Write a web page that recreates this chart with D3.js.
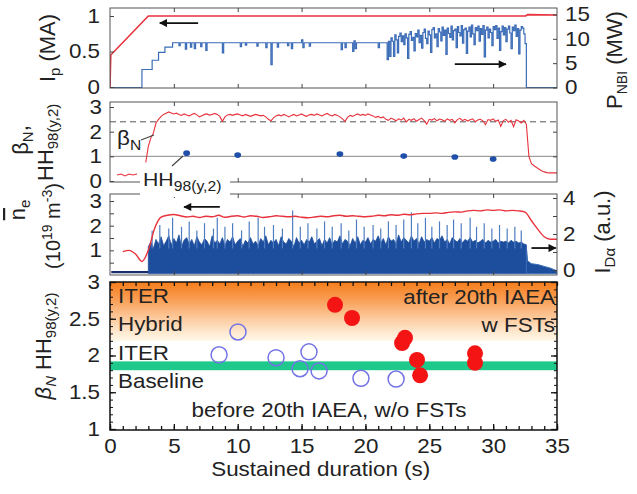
<!DOCTYPE html>
<html>
<head>
<meta charset="utf-8">
<script src="https://cdn.jsdelivr.net/npm/d3@7"></script>
<style>
  body { margin: 0; background: #fff; }
  svg text { font-family: "Liberation Sans", Arial, sans-serif; fill: #222; }
</style>
</head>
<body>
<svg id="chart" width="637" height="494"></svg>
<script>
// ---------- data ----------
const timeLabels = [0, 5, 10, 15, 20, 25, 30, 35];

// (a) plasma current [s, MA]
const ipTrace = [[0, 0], [0.06, 0.45], [3.0, 1.0], [32.55, 1.0], [32.7, 1.02], [35, 1.015]];

// (a) NBI power, step changes [s, MW] up to 22 s
const nbiSteps = [
  [0, 0], [2.5, 3.7], [3.3, 5.6], [3.8, 7.2], [4.3, 8.3], [4.9, 9.2],
  [5.4, 8.6], [5.5, 9.2], [5.9, 7.9], [6.0, 9.2], [6.3, 8.3], [6.4, 9.2], [6.6, 8.0], [6.7, 9.2],
  [7.1, 8.4], [7.2, 9.2], [7.5, 7.6], [7.6, 9.2], [8.8, 7.1], [8.9, 9.2], [10.2, 8.4], [10.3, 9.2],
  [10.6, 8.7], [10.7, 9.2], [11.5, 8.5], [11.6, 9.2], [12.2, 8.2], [12.3, 9.2], [12.6, 4.7], [12.7, 9.2],
  [13.1, 8.3], [13.2, 9.2], [13.9, 8.6], [14.0, 9.2], [14.2, 8.0], [14.3, 9.2], [15.0, 9.8], [15.1, 8.2], [15.2, 9.2],
  [15.6, 8.5], [15.7, 9.2], [18.1, 7.8], [18.2, 9.2], [18.4, 8.2], [18.5, 9.2], [19.0, 7.4], [19.1, 9.6], [19.2, 8.0], [19.3, 9.2],
  [21.0, 8.2], [21.1, 9.2], [21.7, 5.7], [21.8, 9.5], [21.9, 6.4]
];
// (a) NBI power sampled every 0.1 s from 22.0 s, then switched off
const nbiLateStart = 22.0, nbiLateStep = 0.1;
const nbiLate = [
  10.2, 9.5, 6.4, 10.8, 9.8, 7.1, 10.5, 11.2, 9.4, 10.6,
  8.8, 11.0, 10.2, 6.0, 10.9, 11.5, 9.7, 10.3, 7.5, 11.1,
  10.4, 11.8, 9.2, 10.7, 8.1, 11.3, 12.0, 10.1, 9.0, 11.6,
  10.8, 7.2, 11.9, 12.3, 10.2, 11.0, 8.4, 12.1, 11.4, 9.6,
  12.4, 10.7, 11.8, 6.8, 12.2, 11.1, 10.3, 12.6, 9.8, 11.7,
  12.0, 8.2, 12.5, 11.3, 10.6, 12.7, 9.1, 11.9, 12.2, 7.0,
  11.6, 12.4, 10.4, 12.8, 11.0, 8.8, 12.3, 11.7, 12.6, 9.5,
  12.1, 10.9, 12.7, 6.3, 11.8, 12.4, 10.2, 12.0, 11.3, 8.6,
  12.5, 11.9, 12.7, 10.1, 12.2, 7.6, 11.5, 12.6, 10.8, 12.3,
  9.4, 12.0, 12.6, 11.2, 8.0, 12.4, 11.7, 12.8, 10.5, 12.1,
  6.9, 11.8, 12.5, 12.2, 11.0, 9.0
];
const nbiOffTime = 32.6;

// (b) normalized beta, every 0.2 s from 2.8 s
const betaStart = 2.8, betaStep = 0.2;
const betaN = [
  0.75, 1.4, 1.75, 1.95, 2.35, 2.5, 2.62, 2.7, 2.75, 2.8,
  2.76, 2.72, 2.75, 2.7, 2.66, 2.72, 2.68, 2.64, 2.7, 2.74,
  2.68, 2.6, 2.65, 2.7, 2.72, 2.67, 2.7, 2.74, 2.7, 2.62,
  2.42, 2.6, 2.68, 2.7, 2.66, 2.7, 2.72, 2.68, 2.64, 2.7,
  2.66, 2.62, 2.66, 2.7, 2.67, 2.64, 2.66, 2.6, 2.5, 2.44,
  2.56, 2.64, 2.68, 2.64, 2.7, 2.66, 2.6, 2.66, 2.7, 2.64,
  2.68, 2.72, 2.66, 2.62, 2.68, 2.7, 2.66, 2.72, 2.68, 2.64,
  2.7, 2.74, 2.68, 2.64, 2.7, 2.66, 2.6, 2.52, 2.42, 2.58,
  2.66, 2.62, 2.68, 2.72, 2.66, 2.7, 2.66, 2.72, 2.68, 2.64,
  2.58, 2.62, 2.56, 2.6, 2.5, 2.46, 2.55, 2.5, 2.44, 2.52,
  2.47, 2.55, 2.4, 2.5, 2.46, 2.53, 2.42, 2.49, 2.55, 2.45,
  2.3, 2.5, 2.47, 2.53, 2.44, 2.51, 2.48, 2.42, 2.52, 2.46,
  2.5, 2.36, 2.49, 2.54, 2.45, 2.5, 2.43, 2.48, 2.52, 2.4,
  2.47, 2.5, 2.44, 2.28, 2.49, 2.46, 2.52, 2.42, 2.47, 2.22,
  2.45, 2.5, 2.38, 2.46, 2.2, 2.48, 2.43, 2.35, 2.46, 2.3,
  1.0, 0.7, 0.62, 0.55, 0.48, 0.42, 0.37, 0.34, 0.33, 0.33,
  0.33, 0.33
];
const betaRef = 2.4;   // dashed reference level
const hhRef = 1.0;     // solid reference level
// (b) confinement factor points [s, HH98(y,2)]
const hhPoints = [[6.0, 1.13], [10.0, 1.05], [18.0, 1.09], [23.0, 1.01], [27.0, 0.97], [30.0, 0.89]];

// (c) line-averaged density, every 0.5 s from 1.0 s [1e19 m^-3]
const neStart = 1.0, neStep = 0.5;
const neBar = [
  0.95, 1.0, 0.85, 0.55, 1.0, 1.9, 2.35, 2.42, 2.45, 2.4,
  2.35, 2.38, 2.33, 2.38, 2.36, 2.42, 2.34, 2.38, 2.4, 2.35,
  2.4, 2.38, 2.33, 2.36, 2.4, 2.38, 2.36, 2.38, 2.34, 2.32,
  2.35, 2.38, 2.36, 2.4, 2.42, 2.38, 2.4, 2.38, 2.36, 2.38,
  2.42, 2.4, 2.44, 2.42, 2.46, 2.44, 2.48, 2.5, 2.5, 2.52,
  2.5, 2.54, 2.56, 2.55, 2.6, 2.62, 2.6, 2.64, 2.62, 2.64,
  2.6, 2.62, 2.6, 2.55, 2.2, 1.85, 1.55, 1.45, 1.45
];

// (c) D-alpha emission: dense level every 0.2 s from 3.0 s, plus ELM spikes [a.u.]
const daStart = 3.0, daStep = 0.2;
const daLevel = [
  1.3, 1.55, 1.2, 1.7, 1.45, 1.85, 1.35, 1.6, 1.9, 1.4,
  1.75, 1.5, 1.95, 1.3, 1.65, 1.8, 1.45, 1.7, 1.35, 1.85,
  1.55, 1.4, 1.75, 1.6, 1.3, 1.9, 1.5, 1.65, 1.45, 1.8,
  1.35, 1.7, 1.55, 1.85, 1.4, 1.6, 1.75, 1.3, 1.65, 1.5,
  1.8, 1.45, 1.6, 1.35, 1.75, 1.55, 1.9, 1.4, 1.65, 1.5,
  1.7, 1.35, 1.85, 1.55, 1.45, 1.75, 1.6, 1.3, 1.8, 1.5,
  1.65, 1.4, 1.7, 1.55, 1.85, 1.45, 1.6, 1.75, 1.35, 1.7,
  1.5, 1.8, 1.4, 1.65, 1.55, 1.9, 1.45, 1.7, 1.6, 1.35,
  1.75, 1.5, 1.85, 1.4, 1.65, 1.55, 1.8, 1.45, 1.7, 1.6,
  1.9, 1.5, 1.75, 1.4, 1.85, 1.6, 1.7, 1.45, 1.95, 1.55,
  1.8, 1.65, 1.5, 1.9, 1.6, 1.75, 1.45, 1.85, 1.55, 1.7,
  1.6, 1.8, 1.5, 1.75, 1.65, 1.9, 1.55, 1.7, 1.45, 1.8,
  1.65, 1.55, 1.75, 1.5, 1.7, 1.6, 1.8, 1.55, 1.65, 1.5,
  1.6, 1.7, 1.5, 1.65, 1.55, 1.6, 1.7, 1.5, 1.6, 1.55,
  1.6, 1.5, 1.65, 1.55, 1.6, 1.5, 1.55, 1.45, 1.4
];
const daSpikes = [
  [3.3, 2.2], [3.9, 2.5], [4.6, 2.3], [4.9, 2.9], [5.6, 2.4], [6.2, 2.7], [6.8, 2.2], [7.4, 2.6],
  [8.1, 2.3], [8.4, 2.9], [9.0, 2.4], [9.6, 2.6], [10.3, 2.2], [10.9, 2.7], [11.6, 2.9], [12.1, 2.4],
  [12.8, 2.5], [13.5, 2.3], [14.3, 3.3], [14.9, 2.4], [15.5, 2.6], [16.2, 2.3], [16.8, 2.7], [17.4, 2.4],
  [18.1, 2.6], [18.7, 2.2], [19.3, 2.8], [19.9, 2.4], [20.6, 2.5], [21.2, 2.3], [21.8, 2.7], [22.4, 2.5],
  [23.0, 2.8], [23.6, 3.2], [24.1, 2.6], [24.7, 2.9], [25.2, 2.4], [25.8, 2.7], [26.4, 2.5], [26.9, 2.8],
  [27.5, 2.6], [28.2, 2.9], [28.7, 2.4], [29.3, 2.6], [29.9, 2.3], [30.5, 2.5], [31.1, 2.3], [31.7, 2.4], [32.2, 2.2]
];
const daTail = [[32.6, 1.3], [32.7, 0.5], [33.0, 0.35], [33.5, 0.3], [34.0, 0.2], [34.5, 0.1], [35.0, -0.05]];
const daPre = [[0.1, -0.12], [3.0, -0.12]];

// (d) betaN*HH98 vs sustained duration [s, value]
const beforeFST = [[8.54, 2.01], [10.02, 2.32], [13.0, 1.97], [14.88, 1.82], [15.58, 2.05], [16.37, 1.79], [19.65, 1.69], [22.4, 1.68]];
const afterFST = [[17.62, 2.69], [18.95, 2.51], [22.87, 2.17], [23.1, 2.24], [24.04, 1.94], [24.28, 1.73], [28.58, 2.03], [28.58, 1.90]];
const hybridRange = [2.2, 3.0];
const baselineBand = [1.8, 1.92];

// ---------- layout ----------
const svg = d3.select("#chart");
svg.append("rect").attr("width", 637).attr("height", 494).attr("fill", "#fff");

const x = d3.scaleLinear().domain([0, 35]).range([110, 557]);
const panelA = { top: 8, bottom: 88 };
const panelB = { top: 102, bottom: 182 };
const panelC = { top: 194, bottom: 275 };
const panelD = { top: 282, bottom: 430 };

const yIp = d3.scaleLinear().domain([0, 1]).range([87, 16]);
const yNbi = d3.scaleLinear().domain([0, 15]).range([87.5, 14.5]);
const yBeta = d3.scaleLinear().domain([0, 3]).range([181, 107]);
const yNe = d3.scaleLinear().domain([0, 3]).range([275, 201]);
const yDa = d3.scaleLinear().domain([0, 4]).range([270, 198]);
const yPerf = d3.scaleLinear().domain([1, 3]).range([429, 282]);

const RED = "#e8323c";
const BLUE = "#3b6cb7";
const SX = 1.12; // horizontal widening of upright text
const grid = (start, step, vals) => vals.map((v, i) => [start + i * step, v]);

const defs = svg.append("defs");
function clipFor(id, p) {
  defs.append("clipPath").attr("id", id).append("rect")
    .attr("x", x(0)).attr("y", p.top).attr("width", x(35) - x(0)).attr("height", p.bottom - p.top);
  return `url(#${id})`;
}
const marker = defs.append("marker").attr("id", "head").attr("viewBox", "0 0 10 10")
  .attr("refX", 9).attr("refY", 5).attr("markerWidth", 11).attr("markerHeight", 8)
  .attr("markerUnits", "userSpaceOnUse").attr("orient", "auto");
marker.append("path").attr("d", "M0,0 L10,5 L0,10 z").attr("fill", "#111");

function frame(p, stroke, w) {
  svg.append("rect").attr("x", x(0)).attr("y", p.top).attr("width", x(35) - x(0)).attr("height", p.bottom - p.top)
    .attr("fill", "none").attr("stroke", stroke).attr("stroke-width", w);
}
function axis(gen, tx, ty, opts = {}) {
  const g = svg.append("g").attr("transform", `translate(${tx},${ty})`).call(gen);
  g.select(".domain").remove();
  g.selectAll("line").attr("stroke", opts.tick || "#444").attr("stroke-width", opts.tw || 1);
  g.selectAll("text").attr("font-size", 20).attr("font-family", null).attr("fill", "#222")
    .attr("transform", `scale(${SX},1)`)
    .attr("x", function () { return +d3.select(this).attr("x") / SX; });
  return g;
}
function hText(px, py, anchor, size) {
  return svg.append("text").attr("transform", `translate(${px},${py}) scale(${SX},1)`)
    .attr("text-anchor", anchor).attr("font-size", size);
}
function vText(px, py, anchor, size, rot = -90) {
  return svg.append("text").attr("transform", `translate(${px},${py}) rotate(${rot})`)
    .attr("text-anchor", anchor).attr("font-size", size);
}
function rich(t, parts) {
  parts.forEach(p => {
    const s = t.append("tspan").text(p.t);
    if (p.size) s.attr("font-size", p.size);
    if (p.shift) s.attr("baseline-shift", p.shift);
    if (p.italic) s.attr("font-style", "italic");
    if (p.over) s.attr("text-decoration", "overline");
  });
  return t;
}
function arrow(t1, v1, t2, v2, yScale) {
  svg.append("line").attr("x1", x(t1)).attr("y1", yScale(v1)).attr("x2", x(t2)).attr("y2", yScale(v2))
    .attr("stroke", "#111").attr("stroke-width", 1.8).attr("marker-end", "url(#head)");
}
function timeTicks(p) {
  const vals = [5, 10, 15, 20, 25, 30];
  axis(d3.axisTop(x).tickValues(vals).tickSize(-4).tickFormat(""), 0, p.top);
  axis(d3.axisBottom(x).tickValues(vals).tickSize(-4).tickFormat(""), 0, p.bottom);
}
const fmt = d3.format("~g");

// ---------- panel (a): Ip and P_NBI ----------
const clipA = clipFor("clipA", panelA);
const nbiAll = nbiSteps.concat(grid(nbiLateStart, nbiLateStep, nbiLate), [[nbiOffTime, 0], [35, 0]]);
svg.append("path").datum(nbiAll).attr("clip-path", clipA)
  .attr("d", d3.line().x(d => x(d[0])).y(d => yNbi(d[1])).curve(d3.curveStepAfter))
  .attr("fill", "none").attr("stroke", BLUE).attr("stroke-width", 1.2);
svg.append("path").datum(ipTrace).attr("clip-path", clipA)
  .attr("d", d3.line().x(d => x(d[0])).y(d => yIp(d[1])))
  .attr("fill", "none").attr("stroke", RED).attr("stroke-width", 1.6);
frame(panelA, "#555", 1);
timeTicks(panelA);
axis(d3.axisLeft(yIp).tickValues([0, 0.5, 1]).tickSize(-4).tickPadding(10).tickFormat(fmt), x(0), 0);
axis(d3.axisRight(yNbi).tickValues([0, 5, 10, 15]).tickSize(-4).tickPadding(8).tickFormat(fmt), x(35), 0);
arrow(6.9, 0.9, 3.9, 0.9, yIp);
arrow(27.0, 4.8, 31.0, 4.8, yNbi);
rich(vText(55, 48, "middle", 22), [{ t: "I" }, { t: "p", size: 15, shift: -5 }, { t: " (MA)" }]);
rich(vText(622, 60, "middle", 22), [{ t: "P" }, { t: "NBI", size: 14, shift: -5 }, { t: " (MW)" }]);

// ---------- panel (b): betaN and HH98 ----------
const clipB = clipFor("clipB", panelB);
svg.append("line").attr("x1", x(0)).attr("x2", x(35)).attr("y1", yBeta(hhRef)).attr("y2", yBeta(hhRef))
  .attr("stroke", "#888").attr("stroke-width", 1);
svg.append("line").attr("x1", x(0)).attr("x2", x(35)).attr("y1", yBeta(betaRef)).attr("y2", yBeta(betaRef))
  .attr("stroke", "#555").attr("stroke-width", 1).attr("stroke-dasharray", "6,4");
svg.append("path").datum(grid(betaStart, betaStep, betaN)).attr("clip-path", clipB)
  .attr("d", d3.line().x(d => x(d[0])).y(d => yBeta(d[1])))
  .attr("fill", "none").attr("stroke", RED).attr("stroke-width", 1.1);
svg.selectAll(".hh").data(hhPoints).join("ellipse").attr("class", "hh")
  .attr("cx", d => x(d[0])).attr("cy", d => yBeta(d[1])).attr("rx", 3.4).attr("ry", 2.8)
  .attr("fill", "#1f4fa8");
frame(panelB, "#555", 1);
timeTicks(panelB);
axis(d3.axisLeft(yBeta).tickValues([0, 1, 2, 3]).tickSize(-4).tickPadding(8).tickFormat(fmt), x(0), 0);
axis(d3.axisRight(yBeta).tickValues([1, 2]).tickSize(-4).tickFormat(""), x(35), 0);

// ---------- panel (c): density and D-alpha ----------
const clipC = clipFor("clipC", panelC);
const gDa = svg.append("g").attr("clip-path", clipC);
const daFloor = yDa(-0.2);
gDa.append("path").datum(grid(daStart, daStep, daLevel))
  .attr("d", d3.area().x(d => x(d[0])).y0(daFloor).y1(d => yDa(d[1])))
  .attr("fill", "#1d4e9e").attr("stroke", "#1d4e9e").attr("stroke-width", 0.8);
gDa.selectAll("line").data(daSpikes).join("line")
  .attr("x1", d => x(d[0])).attr("x2", d => x(d[0]))
  .attr("y1", yDa(1.2)).attr("y2", d => yDa(d[1]))
  .attr("stroke", "#4f7dc2").attr("stroke-width", 1.2);
gDa.append("path").datum(daTail)
  .attr("d", d3.area().x(d => x(d[0])).y0(daFloor).y1(d => yDa(d[1])))
  .attr("fill", "#1d4e9e").attr("stroke", BLUE).attr("stroke-width", 1);
gDa.append("path").datum(daPre)
  .attr("d", d3.line().x(d => x(d[0])).y(d => yDa(d[1])))
  .attr("stroke", "#1a2f6a").attr("stroke-width", 2.2).attr("fill", "none");
svg.append("path").datum(grid(neStart, neStep, neBar)).attr("clip-path", clipC)
  .attr("d", d3.line().x(d => x(d[0])).y(d => yNe(d[1])).curve(d3.curveMonotoneX))
  .attr("fill", "none").attr("stroke", RED).attr("stroke-width", 1.4);
frame(panelC, "#555", 1);
timeTicks(panelC);
axis(d3.axisLeft(yNe).tickValues([0.5, 1, 1.5, 2, 2.5, 3]).tickSize(-4).tickPadding(8)
  .tickFormat(d => Number.isInteger(d) ? d : ""), x(0), 0);
axis(d3.axisRight(yDa).tickValues([0, 1, 2, 3, 4]).tickSize(-4).tickPadding(6)
  .tickFormat(d => d % 2 === 0 ? d : ""), x(35), 0);
arrow(8.6, 2.76, 5.8, 2.76, yNe);
arrow(33.0, 1.22, 34.9, 1.22, yDa);
rich(vText(25, 210, "middle", 22), [{ t: "n", over: true }, { t: "e", size: 15, shift: -5 }]);
rich(vText(60, 226, "middle", 20), [{ t: "(10" }, { t: "19", size: 14, shift: 8 }, { t: " m" }, { t: "-3", size: 14, shift: 8 }, { t: ")" }]);
rich(vText(610, 232, "middle", 22), [{ t: "I" }, { t: "Dα", size: 15, shift: -5 }, { t: " (a.u.)" }]);

// panel (b) labels, drawn after (c) so the legend box sits on top of both frames
rich(vText(28, 140, "middle", 22), [{ t: "β" }, { t: "N", size: 15, shift: -5 }, { t: "," }]);
rich(vText(53, 181, "start", 22), [{ t: "HH" }, { t: "98(y,2)", size: 15, shift: -5 }]);
svg.append("rect").attr("x", 140).attr("y", 168).attr("width", 90).attr("height", 29).attr("fill", "#fff");
rich(hText(143, 186, "start", 19), [{ t: "HH" }, { t: "98(y,2)", size: 14, shift: -5 }]);
svg.append("line").attr("x1", 172).attr("y1", 166).attr("x2", 183).attr("y2", 156)
  .attr("stroke", "#444").attr("stroke-width", 1.2);
rich(hText(117, 145, "start", 20), [{ t: "β" }, { t: "N", size: 14, shift: -5 }]);
svg.append("line").attr("x1", 141).attr("y1", 140).attr("x2", 154).attr("y2", 135)
  .attr("stroke", "#444").attr("stroke-width", 1.2);
svg.append("path").attr("d", "M117,175 L121,174 L125,176 L129,174 L133,175 L137,174")
  .attr("fill", "none").attr("stroke", RED).attr("stroke-width", 1.1);

// ---------- panel (d): betaN*HH98 vs duration ----------
const grad = defs.append("linearGradient").attr("id", "hybridGrad").attr("gradientUnits", "userSpaceOnUse")
  .attr("x1", 0).attr("x2", 0).attr("y1", yPerf(hybridRange[1])).attr("y2", yPerf(hybridRange[0]));
[[0, "#f67d1a"], [0.3, "#f99e55"], [0.6, "#fcc89a"], [0.85, "#fee8cf"], [1, "#fff8e6"]]
  .forEach(([o, c]) => grad.append("stop").attr("offset", o).attr("stop-color", c));
svg.append("rect").attr("x", x(0)).attr("width", x(35) - x(0))
  .attr("y", yPerf(hybridRange[1])).attr("height", yPerf(hybridRange[0]) - yPerf(hybridRange[1]))
  .attr("fill", "url(#hybridGrad)");
svg.append("rect").attr("x", x(0)).attr("width", x(35) - x(0))
  .attr("y", yPerf(baselineBand[1])).attr("height", yPerf(baselineBand[0]) - yPerf(baselineBand[1]))
  .attr("fill", "#1fc98b");

hText(118, 303, "start", 20).text("ITER");
hText(118, 331, "start", 20).text("Hybrid");
hText(118, 360, "start", 20).text("ITER");
hText(118, 388, "start", 20).text("Baseline");
hText(555, 304, "end", 20).text("after 20th IAEA");
hText(555, 332, "end", 20).text("w FSTs");
hText(x(17.15), 417, "middle", 20).text("before 20th IAEA, w/o FSTs");

svg.selectAll(".before").data(beforeFST).join("circle").attr("class", "before")
  .attr("cx", d => x(d[0])).attr("cy", d => yPerf(d[1])).attr("r", 8)
  .attr("fill", "none").attr("stroke", "#7373e6").attr("stroke-width", 1.5);
svg.selectAll(".after").data(afterFST).join("circle").attr("class", "after")
  .attr("cx", d => x(d[0])).attr("cy", d => yPerf(d[1])).attr("r", 8)
  .attr("fill", "#f41414");

frame(panelD, "#111", 1.5);
const dMajor = d3.range(1, 3.01, 0.5), dMinor = d3.range(1, 3.001, 0.1);
axis(d3.axisLeft(yPerf).tickValues(dMinor).tickSize(-3).tickFormat(""), x(0), 0, { tick: "#111" });
axis(d3.axisRight(yPerf).tickValues(dMinor).tickSize(-3).tickFormat(""), x(35), 0, { tick: "#111" });
axis(d3.axisLeft(yPerf).tickValues(dMajor).tickSize(-6).tickPadding(10).tickFormat(fmt), x(0), 0, { tick: "#111", tw: 1.3 });
axis(d3.axisRight(yPerf).tickValues(dMajor).tickSize(-6).tickFormat(""), x(35), 0, { tick: "#111", tw: 1.3 });
const tMinor = d3.range(0, 35.01, 1);
axis(d3.axisTop(x).tickValues(tMinor).tickSize(-4).tickFormat(""), 0, panelD.top, { tick: "#111", tw: 1.3 });
axis(d3.axisBottom(x).tickValues(tMinor).tickSize(-4).tickFormat(""), 0, panelD.bottom, { tick: "#111", tw: 1.3 });
axis(d3.axisBottom(x).tickValues(timeLabels).tickSize(-6).tickPadding(9).tickFormat(fmt), 0, panelD.bottom, { tick: "#111", tw: 1.3 });

rich(vText(51, 346, "middle", 22), [{ t: "β", italic: true }, { t: "N", size: 15, shift: -5, italic: true }, { t: " HH" }, { t: "98(y,2)", size: 15, shift: -5 }]);
hText(x(16.5), 476, "middle", 20).text("Sustained duration (s)");
</script>
</body>
</html>
